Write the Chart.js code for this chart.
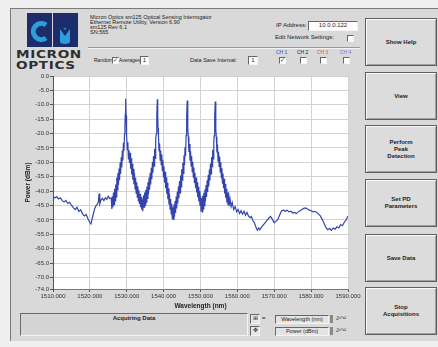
<!DOCTYPE html>
<html>
<head>
<meta charset="utf-8">
<script src="https://cdn.jsdelivr.net/npm/chart.js@4.4.1/dist/chart.umd.min.js"></script>
<style>
body{margin:0;width:438px;height:347px;overflow:hidden;background:#efefef;position:relative;font-family:"Liberation Sans",Arial,sans-serif;color:#222}
.a{position:absolute}
#panel{left:10px;top:8px;width:428px;height:332px;background:#d9d9d9;border-left:1px solid #7a7a7a;border-top:1px solid #7a7a7a}
.t{font-size:6px;white-space:nowrap;line-height:7px}
.cb{width:5px;height:5px;background:#fff;border:1px solid;border-color:#666 #f4f4f4 #f4f4f4 #666;font-size:6px;line-height:5px;text-align:center;color:#333;overflow:hidden}
.box{background:#fff;border:1px solid;border-color:#666 #f4f4f4 #f4f4f4 #666;font-size:6px;line-height:7px;text-align:center}
.btn{left:365px;width:70px;height:46px;background:#dcdcdc;border:1px solid #5e5e5e;box-shadow:inset 1px 1px 0 #fafafa,inset -1px -1px 0 #a0a0a0;display:flex;align-items:center;justify-content:center;text-align:center;font-weight:bold;font-size:6px;line-height:7px;color:#222}
.logo{font-family:"DejaVu Sans",sans-serif;font-weight:bold;font-size:11px;line-height:11px;color:#2e2e2e;transform:scaleX(1.24);transform-origin:0 0;letter-spacing:0.5px}
</style>
</head>
<body>
<div id="panel" class="a"></div>

<svg class="a" style="left:27px;top:13px" width="51" height="34" viewBox="0 0 51 34">
  <rect x="0" y="0" width="51" height="34" fill="#1d2d6b"/>
  <rect x="25" y="0" width="1" height="34" fill="#d9d9d9"/>
  <path d="M19 12 A8 8 0 1 0 19 25" fill="none" stroke="#2a9fdc" stroke-width="5"/>
  <circle cx="38" cy="23" r="8" fill="#2a9fdc"/>
  <path d="M28 32 L28 5 L38 17 L48 5 L48 32 L43 32 L43 16 L38 23 L33 16 L33 32 Z" fill="#1d2d6b"/>
</svg>
<div class="a logo" style="left:16px;top:49px">MICRON</div>
<div class="a logo" style="left:16px;top:60px">OPTICS</div>

<div class="a t" style="left:90px;top:15px;font-size:5.5px;line-height:5px">Micron Optics sm125 Optical Sensing Interrogator<br>Ethernet Remote Utility, Version 6.90<br>sm125 Rev 6.1<br>SN:565</div>
<div class="a" style="left:88px;top:47px;width:272px;height:1px;background:#9a9a9a;border-bottom:1px solid #f4f4f4"></div>

<div class="a t" style="left:276px;top:22px">IP Address:</div>
<div class="a box" style="left:308px;top:21px;width:48px;height:8px">10.0.0.122</div>
<div class="a t" style="left:275px;top:34px">Edit Network Settings:</div>
<div class="a cb" style="left:347px;top:35px"></div>

<div class="a t" style="left:94px;top:57px;font-size:5px">Random:</div>
<div class="a cb" style="left:112px;top:57px">✓</div>
<div class="a t" style="left:119px;top:57px;font-size:5px">Averages:</div>
<div class="a box" style="left:140px;top:56px;width:7px;height:7px">1</div>
<div class="a t" style="left:190px;top:57px;font-size:5.5px">Data Save Interval:</div>
<div class="a box" style="left:248px;top:56px;width:8px;height:7px">1</div>

<div class="a t" style="left:276px;top:49px;font-size:5px;color:#3b49c8">CH 1</div>
<div class="a t" style="left:297px;top:49px;font-size:5px;color:#222">CH 2</div>
<div class="a t" style="left:317px;top:49px;font-size:5px;color:#e2553a">CH 3</div>
<div class="a t" style="left:340px;top:49px;font-size:5px;color:#8b6fd4">CH 4</div>
<div class="a cb" style="left:279px;top:57px">✓</div>
<div class="a cb" style="left:300px;top:57px"></div>
<div class="a cb" style="left:320px;top:57px"></div>
<div class="a cb" style="left:343px;top:57px"></div>

<div class="a" style="left:12px;top:70px;width:350px;height:242px">
  <canvas id="c" width="350" height="242"></canvas>
</div>

<div class="a" style="left:20px;top:313px;width:226px;height:21px;background:#d4d4d4;border:1px solid;border-color:#6a6a6a #f4f4f4 #f4f4f4 #6a6a6a"></div>
<div class="a t" style="left:20px;top:315px;width:228px;text-align:center;font-weight:bold">Acquiring Data</div>
<div class="a box" style="left:250px;top:314px;width:8px;height:8px;background:#e6e6e6;font-size:6px">⊞</div>
<div class="a box" style="left:250px;top:326px;width:8px;height:8px;background:#e6e6e6;font-size:6px">✥</div>
<div class="a t" style="left:262px;top:315px">=</div>
<div class="a box" style="left:275px;top:315px;width:52px;height:7px;background:#e4e4e4;font-size:5.5px;line-height:7px">Wavelength (nm)</div>
<div class="a box" style="left:275px;top:327px;width:52px;height:7px;background:#e4e4e4;font-size:5.5px;line-height:7px">Power (dBm)</div>
<div class="a" style="left:330px;top:315px;width:3px;height:8px;background:#888"></div>
<div class="a" style="left:330px;top:327px;width:3px;height:8px;background:#888"></div>
<div class="a t" style="left:336px;top:315px;font-size:5px">ℤ¹°¹²</div>
<div class="a t" style="left:336px;top:327px;font-size:5px">ℤ¹°¹²</div>

<div class="a btn" style="top:18px">Show Help</div>
<div class="a btn" style="top:72px">View</div>
<div class="a btn" style="top:125px">Perform<br>Peak<br>Detection</div>
<div class="a btn" style="top:179px">Set PD<br>Parameters</div>
<div class="a btn" style="top:234px">Save Data</div>
<div class="a btn" style="top:287px">Stop<br>Acquisitions</div>

<script>
// ---- data (wavelength in nm, power in dBm) ----
const wlBaseLeft = [1510.0,1510.5,1511.0,1511.5,1512.0,1512.5,1513.0,1513.5,1514.0,1514.5,1515.0,1515.5,1516.0,1516.5,1517.0,1517.5,1518.0,1518.5,1519.0,1519.5,1520.0,1520.3,1520.6,1521.0,1521.3,1521.6,1522.0,1522.3,1522.5,1522.7,1523.0,1523.4,1523.8,1524.2,1524.6,1525.0,1525.4];
const pwBaseLeft = [-41.8,-42.4,-41.9,-42.7,-42.3,-43.3,-43.8,-43.2,-44.3,-43.9,-44.9,-45.7,-46.4,-45.6,-47.1,-46.5,-47.9,-48.6,-48.1,-49.7,-50.9,-51.4,-49.6,-47.6,-46.1,-45.2,-44.6,-43.7,-40.8,-44.4,-43.1,-42.5,-43.3,-42.3,-42.9,-41.8,-42.6];

const wlPeak1 = [1525.80,1525.95,1526.10,1526.25,1526.40,1526.55,1526.70,1526.85,1527.00,1527.15,1527.30,1527.45,1527.60,1527.75,1527.90,1528.05,1528.20,1528.35,1528.50,1528.65,1528.80,1528.95,1529.10,1529.25,
  1529.40,1529.50,1529.60,1529.70,1529.80,1529.90,1530.00,
  1530.15,1530.30,1530.45,1530.60,1530.75,1530.90,1531.05,1531.20,1531.35,1531.50,1531.65,1531.80,1531.95,1532.10,1532.25,1532.40,1532.55,1532.70,1532.85,1533.00,1533.15,1533.30,1533.45,1533.60,1533.75,1533.90];
const pwPeak1 = [-42.4,-46.2,-41.8,-45.6,-40.5,-44.7,-39.2,-43.4,-37.7,-42.0,-35.3,-39.6,-33.7,-37.9,-32.1,-36.2,-30.1,-34.0,-28.2,-31.8,-25.9,-29.4,-23.2,-26.0,
  -20.2,-17.6,-13.2,-7.9,-13.6,-17.8,-20.4,
  -25.6,-23.0,-28.8,-25.7,-30.2,-26.7,-32.2,-28.6,-34.2,-30.5,-36.0,-32.2,-37.6,-33.8,-39.2,-35.4,-40.7,-36.9,-42.1,-38.3,-43.4,-39.7,-44.5,-40.9,-45.6,-42.0];

const wlPeak2 = [1534.05,1534.20,1534.35,
  1534.55,1534.70,1534.85,1535.00,1535.15,1535.30,1535.45,1535.60,1535.75,1535.90,1536.05,1536.20,1536.35,1536.50,1536.65,1536.80,1536.95,1537.10,1537.25,1537.40,1537.55,1537.70,1537.85,
  1538.00,1538.10,1538.20,1538.30,1538.40,1538.50,1538.60,
  1538.75,1538.90,1539.05,1539.20,1539.35,1539.50,1539.65,1539.80,1539.95,1540.10,1540.25,1540.40,1540.55,1540.70,1540.85,1541.00,1541.15,1541.30,1541.45,1541.60,1541.75,1541.90,1542.05,1542.20,1542.35];
const pwPeak2 = [-46.4,-42.8,-47.0,
  -41.4,-45.6,-40.5,-44.9,-39.6,-43.8,-38.5,-42.5,-36.9,-41.1,-35.3,-39.5,-33.6,-37.7,-31.9,-35.9,-29.9,-33.6,-27.8,-31.3,-25.3,-28.6,-22.4,
  -20.0,-17.9,-13.4,-8.1,-14.0,-18.1,-20.6,
  -26.0,-23.4,-29.2,-25.9,-30.8,-27.3,-32.9,-29.3,-35.0,-31.4,-37.0,-33.3,-39.0,-35.2,-40.9,-37.1,-42.8,-39.0,-44.6,-40.9,-46.3,-42.7,-47.9,-44.4,-49.6];

const wlPeak3 = [1542.50,1542.65,1542.80,1542.95,1543.10,1543.25,1543.40,1543.55,1543.70,1543.85,1544.00,1544.15,1544.30,1544.45,1544.60,1544.75,1544.90,1545.05,1545.20,1545.35,1545.50,1545.65,1545.80,1545.95,
  1546.10,1546.20,1546.30,1546.40,1546.50,1546.60,1546.70,
  1546.85,1547.00,1547.15,1547.30,1547.45,1547.60,1547.75,1547.90,1548.05,1548.20,1548.35,1548.50,1548.65,1548.80,1548.95,1549.10,1549.25,1549.40,1549.55,1549.70,1549.85,1550.00,1550.15];
const pwPeak3 = [-45.6,-49.8,-44.6,-48.9,-43.4,-47.6,-41.9,-46.0,-40.2,-44.3,-38.4,-42.5,-36.5,-40.6,-34.6,-38.5,-32.4,-36.2,-30.1,-33.8,-27.6,-31.0,-24.8,-27.9,
  -20.6,-18.2,-13.8,-8.5,-14.2,-18.4,-21.0,
  -26.4,-23.6,-29.4,-26.1,-31.2,-27.8,-33.2,-29.8,-35.1,-31.8,-37.0,-33.6,-38.8,-35.3,-40.5,-36.9,-42.1,-38.5,-43.6,-40.0,-45.1,-41.5,-46.9];

const wlPeak4 = [1550.30,1550.45,1550.60,1550.75,1550.90,1551.05,1551.20,1551.35,1551.50,1551.65,1551.80,1551.95,1552.10,1552.25,1552.40,1552.55,1552.70,1552.85,1553.00,1553.15,1553.30,1553.45,1553.60,
  1553.70,1553.80,1553.90,1554.00,1554.10,1554.20,1554.30,
  1554.45,1554.60,1554.75,1554.90,1555.05,1555.20,1555.35,1555.50,1555.65,1555.80,1555.95,1556.10,1556.25,1556.40,1556.55,1556.70,1556.85,1557.00,1557.15,1557.30,1557.45,1557.60,1557.75,1558.00,1558.30,1558.60];
const pwPeak4 = [-42.4,-47.2,-41.6,-46.2,-40.6,-45.0,-39.4,-43.6,-37.9,-42.0,-36.2,-40.3,-34.4,-38.4,-32.5,-36.3,-30.4,-34.0,-28.1,-31.5,-25.6,-28.8,-23.4,
  -20.8,-18.6,-14.2,-8.9,-14.6,-18.8,-21.2,
  -26.6,-23.8,-29.6,-26.3,-31.4,-28.0,-33.4,-30.0,-35.3,-32.0,-37.2,-33.9,-39.0,-35.7,-40.8,-37.5,-42.4,-39.2,-43.9,-40.6,-44.8,-40.4,-45.2,-42.6,-45.4,-44.0];

const wlBaseRight = [1559.0,1559.4,1559.8,1560.2,1560.6,1561.0,1561.4,1561.8,1562.2,1562.6,1563.0,1563.4,1563.8,1564.2,1564.6,1565.0,1565.4,1565.8,1566.1,1566.5,1567.0,1567.5,1568.0,1568.5,1569.0,1569.5,1570.0,1570.5,1571.0,1571.5,1572.0,1572.5,1573.0,1573.5,1574.0,1574.5,1575.0,1575.5,1576.0,1576.5,1577.0,1577.5,1578.0,1578.5,1579.0,1579.5,1580.0,1580.5,1581.0,1581.5,1582.0,1582.5,1583.0,1583.5,1584.0,1584.5,1585.0,1585.5,1586.0,1586.5,1587.0,1587.5,1588.0,1588.5,1589.0,1589.5,1590.0];
const pwBaseRight = [-46.4,-45.4,-47.2,-46.4,-47.8,-46.8,-48.0,-47.0,-48.4,-47.4,-48.6,-49.2,-48.8,-50.2,-51.0,-52.4,-53.6,-52.8,-53.4,-52.6,-51.8,-51.0,-50.2,-49.4,-48.8,-49.8,-51.0,-50.4,-49.8,-48.2,-46.8,-46.6,-47.0,-46.6,-47.2,-47.0,-47.6,-47.4,-47.8,-47.2,-46.8,-46.4,-46.0,-45.8,-46.2,-46.6,-46.8,-47.2,-47.0,-47.4,-48.0,-48.6,-49.8,-51.2,-52.6,-53.4,-53.0,-53.6,-52.8,-53.2,-52.4,-52.8,-51.6,-52.0,-50.8,-50.0,-48.6];

const xTickValues = [1510,1520,1530,1540,1550,1560,1570,1580,1590];
const yTickValues = [0,-5,-10,-15,-20,-25,-30,-35,-40,-45,-50,-55,-60,-65,-70,-74];

const wavelengths = [].concat(wlBaseLeft, wlPeak1, wlPeak2, wlPeak3, wlPeak4, wlBaseRight);
const powers = [].concat(pwBaseLeft, pwPeak1, pwPeak2, pwPeak3, pwPeak4, pwBaseRight);
const points = wavelengths.map((w, i) => ({x: w, y: powers[i]}));

const plotBg = {
  id: 'plotBg',
  beforeDraw(chart) {
    const {ctx, chartArea: a} = chart;
    ctx.save();
    ctx.fillStyle = '#ffffff';
    ctx.fillRect(a.left, a.top, a.right - a.left, a.bottom - a.top);
    ctx.restore();
  }
};

const tickFont = {family: '"Liberation Sans", Arial, sans-serif', size: 6};
const titleFont = {family: '"Liberation Sans", Arial, sans-serif', size: 6.5, weight: 'bold'};

new Chart(document.getElementById('c'), {
  type: 'line',
  data: {
    datasets: [{
      data: points,
      borderColor: '#3345ac',
      borderWidth: 1.2,
      pointRadius: 0,
      tension: 0,
      fill: false
    }]
  },
  options: {
    responsive: false,
    animation: false,
    devicePixelRatio: 1,
    layout: {padding: {top: 6, right: 14, left: 0, bottom: 0}},
    plugins: {legend: {display: false}, tooltip: {enabled: false}},
    scales: {
      x: {
        type: 'linear',
        min: 1510, max: 1590,
        afterBuildTicks: s => { s.ticks = xTickValues.map(v => ({value: v})); },
        afterFit: s => { s.height = 23; },
        ticks: {callback: v => Number(v).toFixed(3), font: tickFont, color: '#333', maxRotation: 0, padding: 1, autoSkip: false},
        grid: {color: '#d2d2d2', tickColor: '#555', tickLength: 3},
        border: {color: '#777'},
        title: {display: true, text: 'Wavelength (nm)', font: titleFont, color: '#222', padding: {top: 0, bottom: 2}}
      },
      y: {
        min: -74, max: 0,
        afterBuildTicks: s => { s.ticks = yTickValues.map(v => ({value: v})); },
        afterFit: s => { s.width = 41; },
        ticks: {callback: v => Number(v).toFixed(1), font: tickFont, color: '#333', padding: 1, autoSkip: false},
        grid: {color: '#d2d2d2', tickColor: '#555', tickLength: 3},
        border: {color: '#555'},
        title: {display: true, text: 'Power (dBm)', font: titleFont, color: '#222', padding: {top: 12, bottom: 0}}
      }
    }
  },
  plugins: [plotBg]
});
</script>
</body>
</html>
